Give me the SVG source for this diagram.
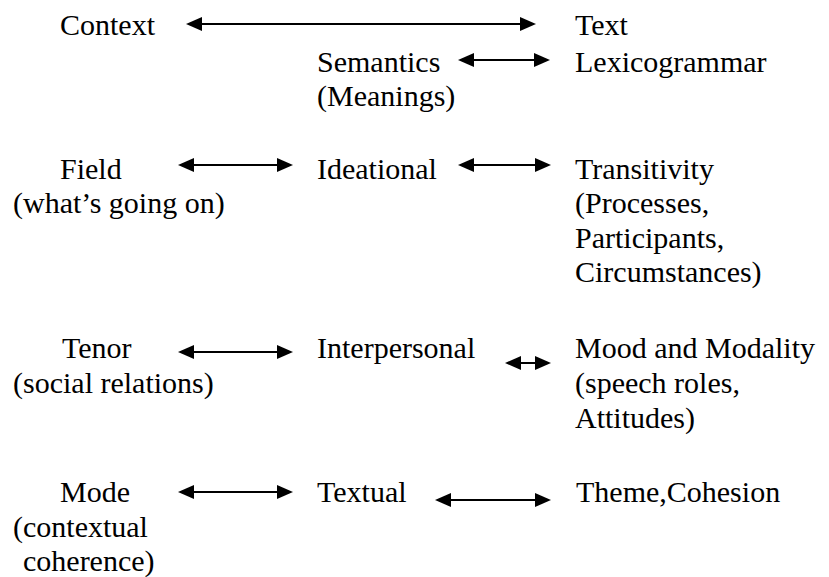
<svg xmlns="http://www.w3.org/2000/svg" width="829" height="577" viewBox="0 0 829 577">
  <style>
    .t { font-family: 'Liberation Serif', 'DejaVu Serif', serif; font-size: 30px; fill: #000; }
    .link { stroke: #000; stroke-width: 2; fill: none; marker-start: url(#head); marker-end: url(#head); }
  </style>
  <defs>
    <marker id="head" viewBox="0 0 16 14" refX="1" refY="7" markerWidth="16" markerHeight="14" markerUnits="userSpaceOnUse" orient="auto-start-reverse">
      <path d="M0,0 L16,7 L0,14 z" fill="#000"/>
    </marker>
  </defs>
  <rect width="829" height="577" fill="#fff"/>

  <!-- double-headed connectors; endpoints sit at the arrowhead bases -->
  <g id="connectors">
    <line class="link" x1="201" y1="24" x2="521" y2="24"/>
    <line class="link" x1="473" y1="60" x2="535" y2="60"/>
    <line class="link" x1="193" y1="165" x2="278" y2="165"/>
    <line class="link" x1="473" y1="165" x2="536" y2="165"/>
    <line class="link" x1="193" y1="352" x2="278" y2="352"/>
    <line class="link" x1="520" y1="363" x2="536" y2="363"/>
    <line class="link" x1="193" y1="492" x2="278" y2="492"/>
    <line class="link" x1="450" y1="500" x2="536" y2="500"/>
  </g>

  <g id="context"><text class="t" x="60" y="35">Context</text></g>
  <g id="text"><text class="t" x="575" y="35">Text</text></g>

  <g id="semantics">
    <text class="t" x="317" y="72">Semantics</text>
    <text class="t" x="317" y="106">(Meanings)</text>
  </g>
  <g id="lexicogrammar"><text class="t" x="575" y="72">Lexicogrammar</text></g>

  <g id="field">
    <text class="t" x="60" y="179">Field</text>
    <text class="t" x="13" y="213">(what’s going on)</text>
  </g>
  <g id="ideational"><text class="t" x="317" y="179">Ideational</text></g>
  <g id="transitivity">
    <text class="t" x="575" y="179">Transitivity</text>
    <text class="t" x="575" y="213">(Processes,</text>
    <text class="t" x="575" y="248">Participants,</text>
    <text class="t" x="575" y="282">Circumstances)</text>
  </g>

  <g id="tenor">
    <text class="t" x="62" y="358">Tenor</text>
    <text class="t" x="13" y="393">(social relations)</text>
  </g>
  <g id="interpersonal"><text class="t" x="317" y="358">Interpersonal</text></g>
  <g id="mood">
    <text class="t" x="575" y="358">Mood and Modality</text>
    <text class="t" x="575" y="393">(speech roles,</text>
    <text class="t" x="575" y="428">Attitudes)</text>
  </g>

  <g id="mode">
    <text class="t" x="60" y="502">Mode</text>
    <text class="t" x="13" y="537">(contextual</text>
    <text class="t" x="23" y="571">coherence)</text>
  </g>
  <g id="textual"><text class="t" x="317" y="502">Textual</text></g>
  <g id="theme"><text class="t" x="576" y="502">Theme,Cohesion</text></g>
</svg>
